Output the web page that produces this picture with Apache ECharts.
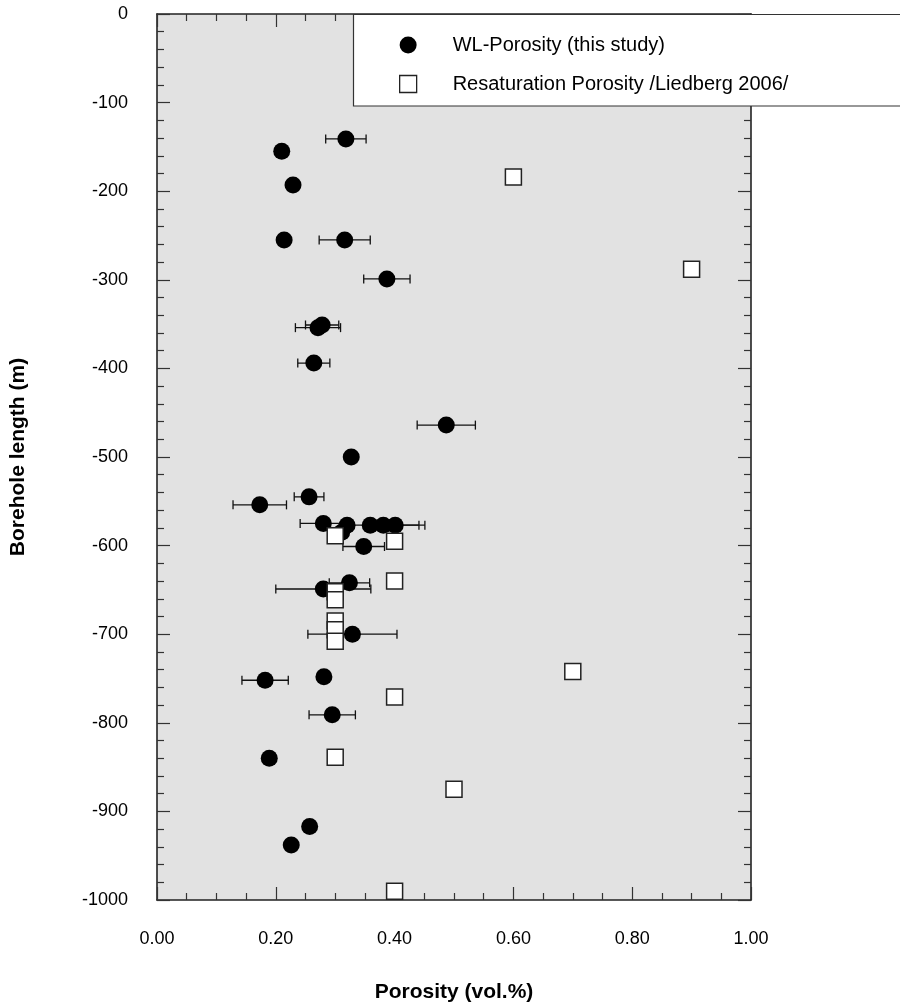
<!DOCTYPE html>
<html>
<head>
<meta charset="utf-8">
<script src="https://cdn.jsdelivr.net/npm/echarts@6/dist/echarts.min.js"></script>
<style>
  html, body { margin: 0; padding: 0; background: #fff; }
  #chart { width: 900px; height: 1008px; }
</style>
</head>
<body>
<div id="chart"></div>
<script>
// WL-Porosity measurements (this study): porosity (vol.%), borehole length (m), +/- error
const wlPorosity = [0.318, 0.210, 0.229, 0.214, 0.316, 0.387, 0.278, 0.271, 0.264, 0.487,
                    0.327, 0.256, 0.173, 0.280, 0.320, 0.311, 0.359, 0.381, 0.401, 0.348,
                    0.324, 0.280, 0.329, 0.182, 0.281, 0.295, 0.189, 0.257, 0.226];
const wlDepth    = [-141, -155, -193, -255, -255, -299, -351, -354, -394, -464,
                    -500, -545, -554, -575, -577, -585, -577, -577, -577, -601,
                    -642, -649, -700, -752, -748, -791, -840, -917, -938];
const wlError    = [0.034, 0, 0, 0, 0.043, 0.039, 0.028, 0.038, 0.027, 0.049,
                    0, 0.025, 0.045, 0.039, 0, 0, 0, 0.070, 0.040, 0.035,
                    0.034, 0.080, 0.075, 0.039, 0, 0.039, 0, 0, 0];

// Resaturation porosity (Liedberg 2006)
const resPorosity = [0.60, 0.90, 0.30, 0.40, 0.40, 0.30, 0.30, 0.30, 0.30, 0.30,
                     0.70, 0.40, 0.30, 0.50, 0.40];
const resDepth    = [-184, -288, -589, -595, -640, -652, -661, -685, -695, -708,
                     -742, -771, -839, -875, -990];

const seriesNames = ['WL-Porosity (this study)', 'Resaturation Porosity /Liedberg 2006/'];
const xTitle = 'Porosity (vol.%)';
const yTitle = 'Borehole length (m)';

const FONT = "'Liberation Sans', Arial, Helvetica, sans-serif";

const wlPoints = wlPorosity.map((v, i) => [v, wlDepth[i]]);
const resPoints = resPorosity.map((v, i) => [v, resDepth[i]]);
const errPoints = wlPorosity.map((v, i) => [v, wlDepth[i], wlError[i]]).filter(d => d[2] > 0);

const chart = echarts.init(document.getElementById('chart'), null, { renderer: 'canvas' });

const tickStyle = { color: '#333', width: 1.2 };

function xAxisDef(pos, showLabels) {
  return {
    type: 'value', position: pos, min: 0, max: 1, interval: 0.2,
    name: showLabels ? xTitle : '', nameLocation: 'middle', nameGap: 82,
    nameTextStyle: { fontFamily: FONT, fontSize: 21, fontWeight: 'bold', color: '#000' },
    axisLine: { show: true, onZero: false, lineStyle: { color: '#222', width: 1.6 } },
    axisTick: { show: true, inside: true, length: 13, lineStyle: tickStyle },
    minorTick: { show: true, splitNumber: 4, length: 7, lineStyle: tickStyle },
    axisLabel: { show: showLabels, margin: 30, fontFamily: FONT, fontSize: 18, color: '#000',
                 formatter: v => v.toFixed(2) },
    splitLine: { show: false }, minorSplitLine: { show: false }
  };
}
function yAxisDef(pos, showLabels) {
  return {
    type: 'value', position: pos, min: -1000, max: 0, interval: 100,
    name: showLabels ? yTitle : '', nameLocation: 'middle', nameGap: 128,
    nameTextStyle: { fontFamily: FONT, fontSize: 21, fontWeight: 'bold', color: '#000' },
    axisLine: { show: true, onZero: false, lineStyle: { color: '#222', width: 1.6 } },
    axisTick: { show: true, inside: true, length: 13, lineStyle: tickStyle },
    minorTick: { show: true, splitNumber: 5, length: 7, lineStyle: tickStyle },
    axisLabel: { show: showLabels, margin: 29, fontFamily: FONT, fontSize: 18, color: '#000',
                 formatter: v => String(Math.round(v)) },
    splitLine: { show: false }, minorSplitLine: { show: false }
  };
}

const option = {
  animation: false,
  backgroundColor: '#fff',
  grid: { left: 157, right: 149, top: 14, bottom: 106, show: true,
          backgroundColor: '#e2e2e2', borderWidth: 0 },
  xAxis: [xAxisDef('bottom', true), xAxisDef('top', false)],
  yAxis: [yAxisDef('left', true), yAxisDef('right', false)],
  legend: {
    orient: 'vertical', left: 394, top: 30, itemGap: 19,
    itemWidth: 17, itemHeight: 17, z: 20,
    textStyle: { fontFamily: FONT, fontSize: 20, color: '#000', padding: [0, 0, 0, 31] },
    data: [
      { name: seriesNames[0], icon: 'circle' },
      { name: seriesNames[1], icon: 'rect',
        itemStyle: { color: '#fff', borderColor: '#222', borderWidth: 1.3 } }
    ],
    selectedMode: false
  },
  graphic: [{
    type: 'rect', z: 15, silent: true,
    shape: { x: 353.5, y: 14.5, width: 560, height: 91.5 },
    style: { fill: '#fff', stroke: '#333', lineWidth: 1.2 }
  }],
  series: [
    {
      type: 'custom', name: 'err', silent: true, z: 3,
      renderItem: function (params, api) {
        const x = api.value(0), y = api.value(1), e = api.value(2);
        const a = api.coord([x - e, y]);
        const b = api.coord([x + e, y]);
        const h = 4.5;
        const st = { stroke: '#111', lineWidth: 1.3 };
        return {
          type: 'group', children: [
            { type: 'line', shape: { x1: a[0], y1: a[1], x2: b[0], y2: b[1] }, style: st },
            { type: 'line', shape: { x1: a[0], y1: a[1] - h, x2: a[0], y2: a[1] + h }, style: st },
            { type: 'line', shape: { x1: b[0], y1: b[1] - h, x2: b[0], y2: b[1] + h }, style: st }
          ]
        };
      },
      data: errPoints
    },
    {
      type: 'scatter', name: seriesNames[0], z: 4,
      symbol: 'circle', symbolSize: 17,
      itemStyle: { color: '#000', opacity: 1 },
      data: wlPoints
    },
    {
      type: 'scatter', name: seriesNames[1], z: 5,
      symbol: 'rect', symbolSize: 16,
      itemStyle: { color: '#fff', borderColor: '#222', borderWidth: 1.5, opacity: 1 },
      data: resPoints
    }
  ]
};

chart.setOption(option);
</script>
</body>
</html>
